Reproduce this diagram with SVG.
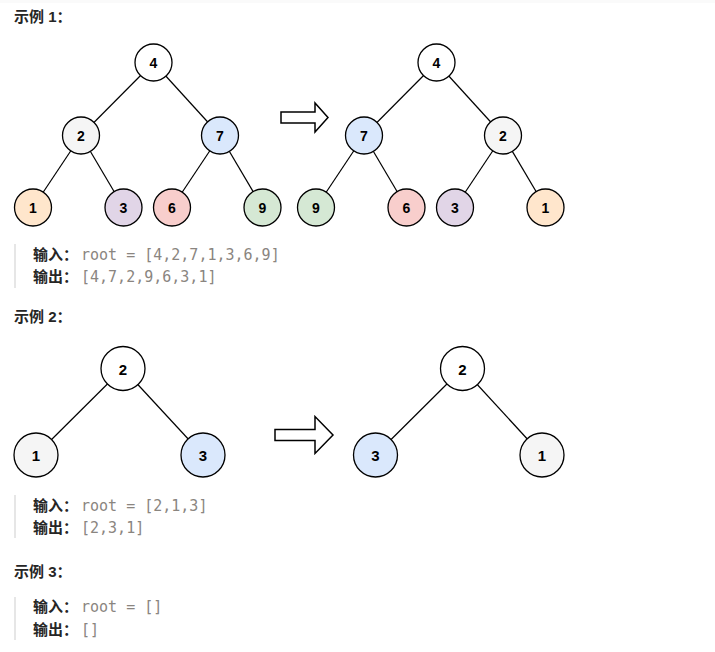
<svg xmlns="http://www.w3.org/2000/svg" width="715" height="652" viewBox="0 0 715 652">
<style>
.h{font-family:"Liberation Sans","Noto Sans CJK SC",sans-serif;font-weight:bold;font-size:15px;fill:#262626}
.lb{font-family:"Liberation Sans","Noto Sans CJK SC",sans-serif;font-weight:bold;font-size:15px;fill:#262626}
.code{font-family:"DejaVu Sans Mono","Liberation Mono",monospace;font-size:15px;fill:#8a8580}
.bar{fill:#e6e6e6}
.n circle{stroke:#000;stroke-width:1.3}
.s text{font-family:"Liberation Sans",Arial,sans-serif;font-weight:bold;font-size:14px;fill:#000;text-anchor:middle;dominant-baseline:central}
.b text{font-family:"Liberation Sans",Arial,sans-serif;font-weight:bold;font-size:15px;fill:#000;text-anchor:middle;dominant-baseline:central}
.e line{stroke:#000;stroke-width:1.2}
.arrow{fill:#fff;stroke:#000;stroke-width:1.5;stroke-linejoin:miter}
.w{fill:#fff}.g{fill:#f5f5f5}.bl{fill:#dae8fc}.o{fill:#ffe6cc}.p{fill:#e1d5e7}.r{fill:#f8cecc}.gr{fill:#d5e8d4}
</style>
<rect x="0" y="0" width="715" height="652" fill="#fff"/>
<rect x="0" y="0" width="715" height="3" fill="#fafafa"/>

<text class="h" x="14" y="22">示例 1：</text>
<text class="h" x="14" y="322">示例 2：</text>
<text class="h" x="14" y="577">示例 3：</text>

<g id="connectors" class="e">
<line x1="153.5" y1="62.5" x2="81" y2="135.5"/>
<line x1="153.5" y1="62.5" x2="220" y2="135.5"/>
<line x1="81" y1="135.5" x2="33" y2="207.5"/>
<line x1="81" y1="135.5" x2="123.5" y2="207.5"/>
<line x1="220" y1="135.5" x2="172" y2="207.5"/>
<line x1="220" y1="135.5" x2="262.5" y2="207.5"/>
<line x1="436.5" y1="62.5" x2="364" y2="135.5"/>
<line x1="436.5" y1="62.5" x2="503" y2="135.5"/>
<line x1="364" y1="135.5" x2="316" y2="207.5"/>
<line x1="364" y1="135.5" x2="406.5" y2="207.5"/>
<line x1="503" y1="135.5" x2="455" y2="207.5"/>
<line x1="503" y1="135.5" x2="545.5" y2="207.5"/>
<line x1="123" y1="368.5" x2="36" y2="455"/>
<line x1="123" y1="368.5" x2="203" y2="455"/>
<line x1="462.5" y1="368.5" x2="375.5" y2="455"/>
<line x1="462.5" y1="368.5" x2="542" y2="455"/>
</g>

<g id="ex1-in-4" class="n s"><circle class="w" cx="153.5" cy="62.5" r="18.5"/><text x="153.5" y="63">4</text></g>
<g id="ex1-in-2" class="n s"><circle class="g" cx="81" cy="135.5" r="18.5"/><text x="81" y="136">2</text></g>
<g id="ex1-in-7" class="n s"><circle class="bl" cx="220" cy="135.5" r="18.5"/><text x="220" y="136">7</text></g>
<g id="ex1-in-1" class="n s"><circle class="o" cx="33" cy="207.5" r="18.5"/><text x="33" y="208">1</text></g>
<g id="ex1-in-3" class="n s"><circle class="p" cx="123.5" cy="207.5" r="18.5"/><text x="123.5" y="208">3</text></g>
<g id="ex1-in-6" class="n s"><circle class="r" cx="172" cy="207.5" r="18.5"/><text x="172" y="208">6</text></g>
<g id="ex1-in-9" class="n s"><circle class="gr" cx="262.5" cy="207.5" r="18.5"/><text x="262.5" y="208">9</text></g>

<g id="ex1-arrow"><polygon class="arrow" points="281,112 315,112 315,103 328,117.5 315,132 315,123 281,123"/></g>

<g id="ex1-out-4" class="n s"><circle class="w" cx="436.5" cy="62.5" r="18.5"/><text x="436.5" y="63">4</text></g>
<g id="ex1-out-7" class="n s"><circle class="bl" cx="364" cy="135.5" r="18.5"/><text x="364" y="136">7</text></g>
<g id="ex1-out-2" class="n s"><circle class="g" cx="503" cy="135.5" r="18.5"/><text x="503" y="136">2</text></g>
<g id="ex1-out-9" class="n s"><circle class="gr" cx="316" cy="207.5" r="18.5"/><text x="316" y="208">9</text></g>
<g id="ex1-out-6" class="n s"><circle class="r" cx="406.5" cy="207.5" r="18.5"/><text x="406.5" y="208">6</text></g>
<g id="ex1-out-3" class="n s"><circle class="p" cx="455" cy="207.5" r="18.5"/><text x="455" y="208">3</text></g>
<g id="ex1-out-1" class="n s"><circle class="o" cx="545.5" cy="207.5" r="18.5"/><text x="545.5" y="208">1</text></g>

<rect class="bar" x="14" y="244" width="2" height="44"/>
<text class="lb" x="33" y="260">输入：</text><text class="code" x="81" y="260">root = [4,2,7,1,3,6,9]</text>
<text class="lb" x="33" y="282">输出：</text><text class="code" x="81" y="282">[4,7,2,9,6,3,1]</text>

<g id="ex2-in-2" class="n b"><circle class="w" cx="123" cy="368.5" r="22"/><text x="123" y="369">2</text></g>
<g id="ex2-in-1" class="n b"><circle class="g" cx="36" cy="455" r="22"/><text x="36" y="455.5">1</text></g>
<g id="ex2-in-3" class="n b"><circle class="bl" cx="203" cy="455" r="22"/><text x="203" y="455.5">3</text></g>

<g id="ex2-arrow"><polygon class="arrow" points="275,429.5 315,429.5 315,416.5 333,435 315,453.5 315,440.5 275,440.5"/></g>

<g id="ex2-out-2" class="n b"><circle class="w" cx="462.5" cy="368.5" r="22"/><text x="462.5" y="369">2</text></g>
<g id="ex2-out-3" class="n b"><circle class="bl" cx="375.5" cy="455" r="22"/><text x="375.5" y="455.5">3</text></g>
<g id="ex2-out-1" class="n b"><circle class="g" cx="542" cy="455" r="22"/><text x="542" y="455.5">1</text></g>

<rect class="bar" x="14" y="495" width="2" height="43"/>
<text class="lb" x="33" y="511">输入：</text><text class="code" x="81" y="511">root = [2,1,3]</text>
<text class="lb" x="33" y="533">输出：</text><text class="code" x="81" y="533">[2,3,1]</text>

<rect class="bar" x="14" y="597" width="2" height="43"/>
<text class="lb" x="33" y="612">输入：</text><text class="code" x="81" y="612">root = []</text>
<text class="lb" x="33" y="635">输出：</text><text class="code" x="81" y="635">[]</text>
</svg>
